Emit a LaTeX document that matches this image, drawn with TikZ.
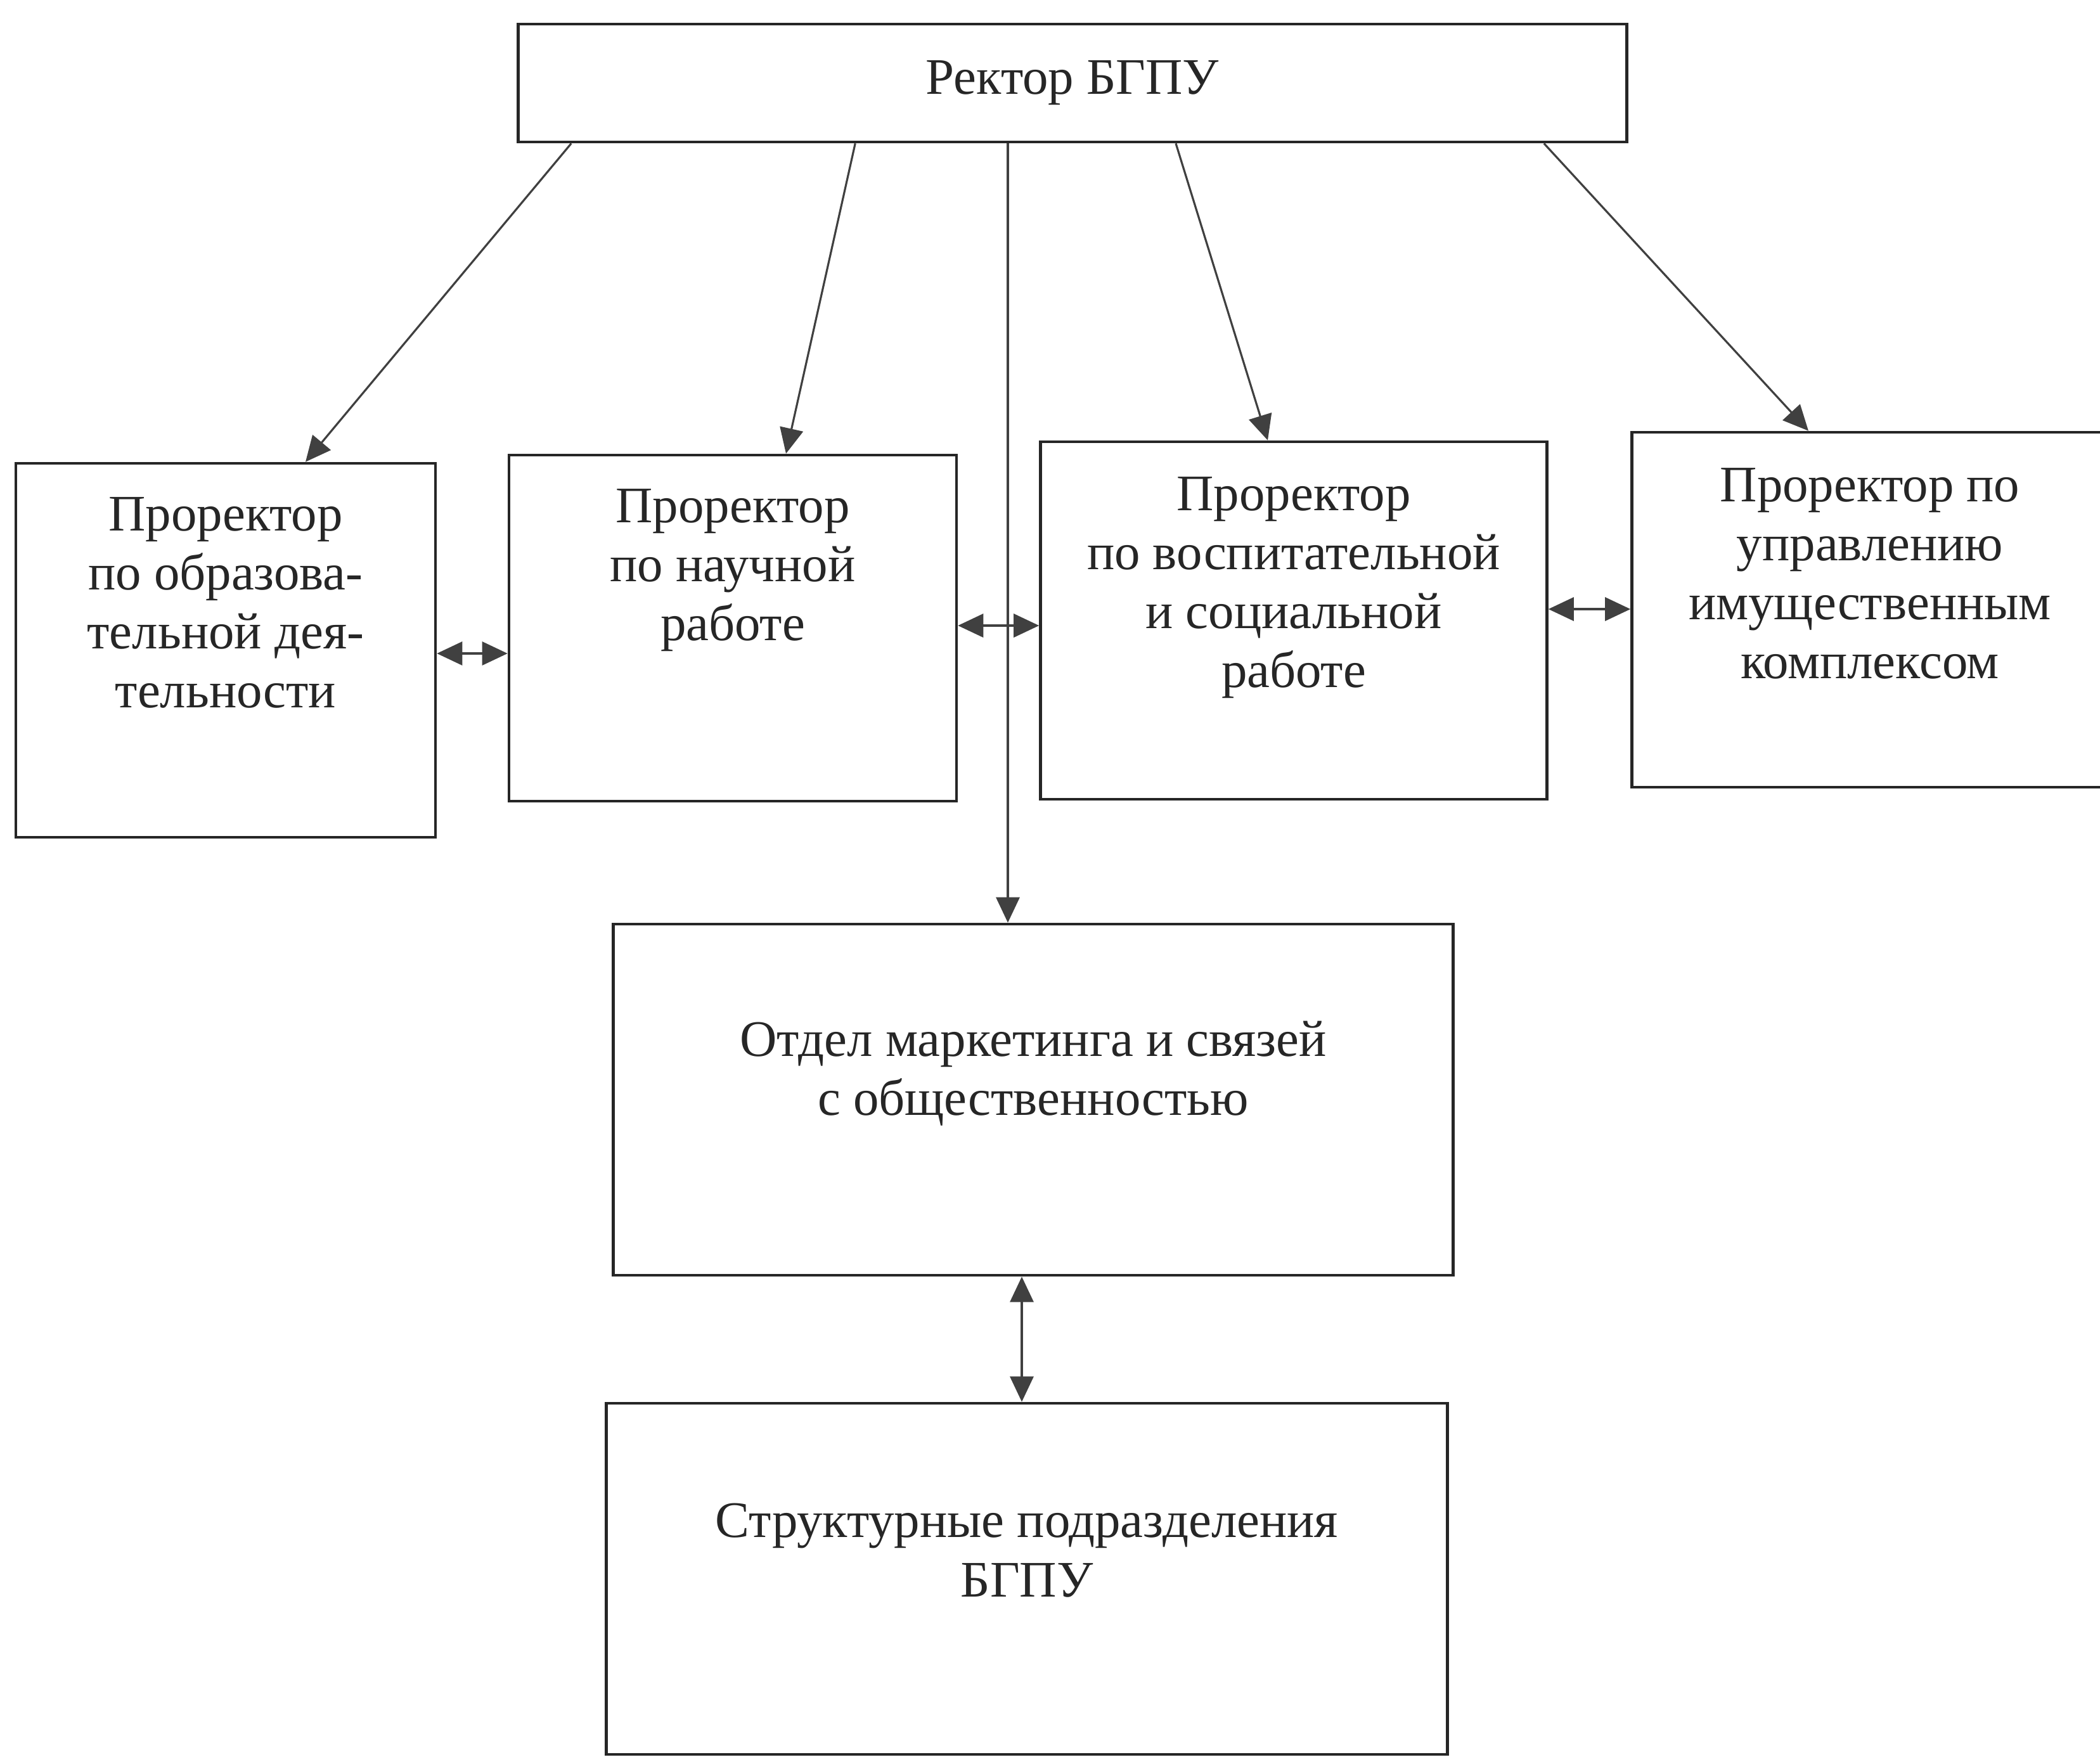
\documentclass[tikz,border=0pt]{standalone}
\usepackage{fontspec}
\setmainfont{Liberation Serif}
\usetikzlibrary{arrows.meta,positioning}

\begin{document}
\begin{tikzpicture}[
  box/.style={draw=black!85, line width=1.3pt, fill=white, inner sep=0pt},
  txt/.style={align=center, inner sep=0pt, text=black!85,
              font=\fontsize{23}{26.5}\selectfont},
  arrow/.style={-{Triangle[length=0.4cm,width=0.37cm]}, line width=0.9pt, black!75},
  darrow/.style={{Triangle[length=0.4cm,width=0.37cm]}-{Triangle[length=0.4cm,width=0.37cm]},
                 line width=0.9pt, black!75}
]
\useasboundingbox[fill=white] (0,0) rectangle (33.13,-27.79);

% boxes
\node[box, minimum width=17.49cm, minimum height=1.86cm] (rector) at (16.92,-1.31) {};
\node[txt] (rectort) at (rector) {Ректор БГПУ};
\node[box, minimum width=6.62cm, minimum height=5.90cm] (obr)    at (3.56,-10.26) {};
\node[box, minimum width=7.06cm, minimum height=5.46cm] (nauch)  at (11.56,-9.91) {};
\node[box, minimum width=7.99cm, minimum height=5.64cm] (vosp)   at (20.41,-9.79) {};
\node[box, minimum width=7.51cm, minimum height=5.60cm] (imush)  at (29.50,-9.62) {};
\node[box, minimum width=13.25cm, minimum height=5.54cm] (otdel) at (16.30,-17.35) {};
\node[box, minimum width=13.27cm, minimum height=5.54cm] (struct) at (16.20,-24.91) {};

% texts
\node[txt, anchor=north] (obrt)   at ([yshift=-0.55cm]obr.north)   {Проректор\\по образова-\\тельной дея-\\тельности};
\node[txt, anchor=north] (naucht) at ([yshift=-0.55cm]nauch.north) {Проректор\\по научной\\работе};
\node[txt, anchor=north] (vospt)  at ([yshift=-0.57cm]vosp.north)  {Проректор\\по воспитательной\\и социальной\\работе};
\node[txt, anchor=north] (imusht) at ([yshift=-0.58cm]imush.north) {Проректор по\\управлению\\имущественным\\комплексом};
\node[txt, anchor=north] (otdelt) at ([yshift=-1.55cm]otdel.north) {Отдел маркетинга и связей\\с общественностью};
\node[txt, anchor=north] (structt) at ([yshift=-1.6cm]struct.north) {Структурные подразделения\\БГПУ};

% connectors
\draw[arrow] ([xshift=0.86cm]rector.south west) -- ([xshift=1.26cm]obr.north);
\draw[arrow] ([xshift=5.34cm]rector.south west) -- ([xshift=0.84cm]nauch.north);
\draw[arrow] ([xshift=1.63cm]rector.south) -- ([xshift=-0.41cm]vosp.north);
\draw[arrow] ([xshift=-1.33cm]rector.south east) -- ([xshift=-0.97cm]imush.north);
\draw[arrow] ([xshift=-1.02cm]rector.south) -- ([xshift=-1.02cm]rector.south |- otdel.north);
\draw[darrow] ([yshift=-0.05cm]obr.east) -- ([yshift=-0.05cm]obr.east -| nauch.west);
\draw[darrow] ([yshift=0.04cm]nauch.east) -- ([yshift=0.04cm]nauch.east -| vosp.west);
\draw[darrow] ([yshift=0.18cm]vosp.east) -- ([yshift=0.18cm]vosp.east -| imush.west);
\draw[darrow] ([xshift=-0.18cm]otdel.south) -- ([xshift=-0.18cm]otdel.south |- struct.north);
\end{tikzpicture}
\end{document}
